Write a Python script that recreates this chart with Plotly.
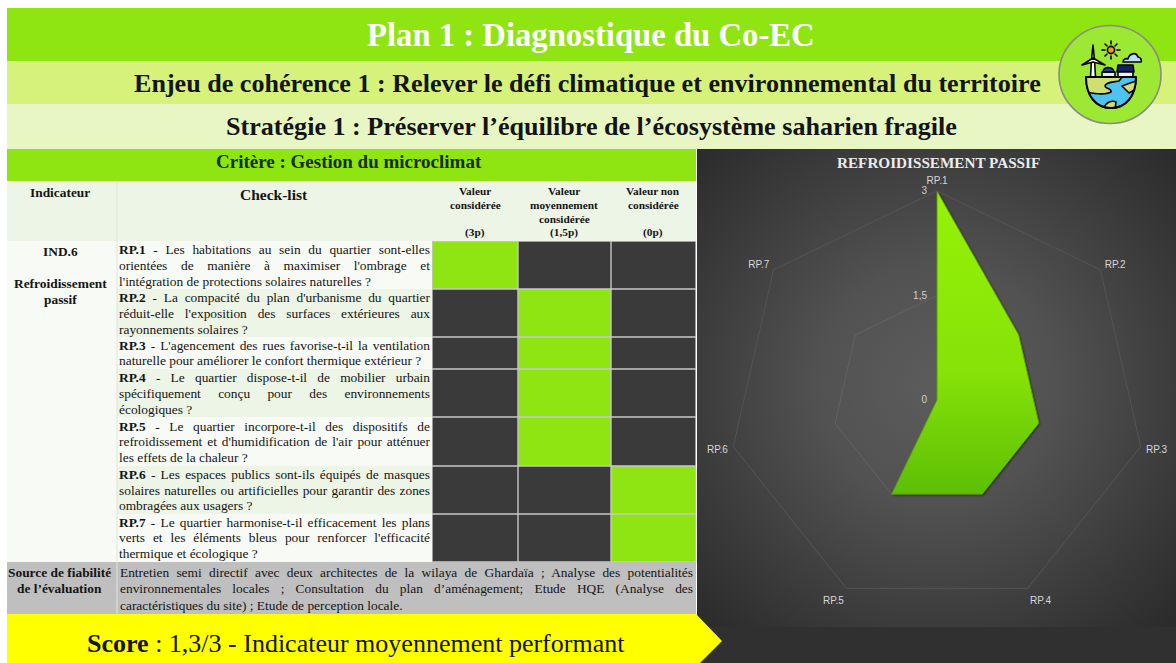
import base64, json
import plotly.graph_objects as go

# ---------- data ----------
rp_labels = ["RP.1", "RP.2", "RP.3", "RP.4", "RP.5", "RP.6", "RP.7"]
rp_values = [3, 1.5, 1.5, 1.5, 1.5, 0, 0]
radial_ticks = [0, 1.5, 3]
radial_tick_text = ["0", "1,5", "3"]
score_columns = [3, 1.5, 0]
column_headers = [
    ["Valeur", "considérée", "", "(3p)"],
    ["Valeur", "moyennement", "considérée", "(1,5p)"],
    ["Valeur non", "considérée", "", "(0p)"],
]
checklist = [
    ["<b>RP.1</b> - Les habitations au sein du quartier sont-elles",
     "orientées de manière à maximiser l'ombrage et",
     "l'intégration de protections solaires naturelles ?"],
    ["<b>RP.2</b> - La compacité du plan d'urbanisme du quartier",
     "réduit-elle l'exposition des surfaces extérieures aux",
     "rayonnements solaires ?"],
    ["<b>RP.3</b> - L'agencement des rues favorise-t-il la ventilation",
     "naturelle pour améliorer le confort thermique extérieur ?"],
    ["<b>RP.4</b> - Le quartier dispose-t-il de mobilier urbain",
     "spécifiquement conçu pour des environnements",
     "écologiques ?"],
    ["<b>RP.5</b> - Le quartier incorpore-t-il des dispositifs de",
     "refroidissement et d'humidification de l'air pour atténuer",
     "les effets de la chaleur ?"],
    ["<b>RP.6</b> - Les espaces publics sont-ils équipés de masques",
     "solaires naturelles ou artificielles pour garantir des zones",
     "ombragées aux usagers ?"],
    ["<b>RP.7</b> - Le quartier harmonise-t-il efficacement les plans",
     "verts et les éléments bleus pour renforcer l'efficacité",
     "thermique et écologique ?"],
]
source_lines = [
    "Entretien semi directif avec deux architectes de la wilaya de Ghardaïa ; Analyse des potentialités",
    "environnementales locales ; Consultation du plan d’aménagement; Etude HQE (Analyse des",
    "caractéristiques du site) ; Etude de perception locale.",
]

# ---------- layout constants ----------
W, H = 1176, 663
GREEN, DARK = "#8ee512", "#3a3a3a"
SERIF = "Liberation Serif"
col_x = [7, 117, 432, 518, 611, 696]
row_y = [241, 289, 337, 369, 417, 466, 514, 562]
line_y = [[249, 265, 281], [297, 313, 329], [345, 361], [377, 393, 409],
          [426, 441, 457], [474, 490, 506], [522, 537, 553]]
source_y = [572, 588, 605]

px = lambda x: x / W
py = lambda y: 1 - y / H
shapes, notes, justify = [], [], []


def rect(x0, y0, x1, y1, fill):
    shapes.append(dict(type="rect", xref="paper", yref="paper", layer="below",
                       x0=px(x0), x1=px(x1), y0=py(y0), y1=py(y1),
                       fillcolor=fill, line=dict(width=0)))


def text(x, y, s, size, color="#141414", anchor="center", family=SERIF, align="center", just=None):
    notes.append(dict(xref="paper", yref="paper", x=px(x), y=py(y), text=s, showarrow=False,
                      xanchor=anchor, yanchor="middle", align=align,
                      font=dict(family=family, size=size, color=color),
                      borderpad=0, borderwidth=0))
    if just:
        justify.append([len(notes) - 1, just, s.count(" ")])


def svg_uri(svg):
    return "data:image/svg+xml;base64," + base64.b64encode(svg.encode()).decode()


# bands
rect(7, 8, W, 61, GREEN)
rect(7, 61, W, 104, "#d6f27a")
rect(7, 104, W, 149, "#e8f6c4")
rect(7, 149, 696, 181, GREEN)
rect(7, 182, 696, 241, "#edf5e6")
rect(7, 241, 117, 562, "#f8fbf5")
rect(7, 562, 696, 614, "#bfbfbf")
rect(432, 241, 696, 562, "#c8c8c8")
rect(697, 627, W, H, "#303030")
shapes.append(dict(type="path", xref="paper", yref="paper", layer="below",
                   path=f"M {px(7)} {py(614)} L {px(696)} {py(614)} L {px(722)} {py(641)} "
                        f"L {px(700)} {py(663)} L {px(7)} {py(663)} Z",
                   fillcolor="#ffff00", line=dict(width=0)))

# checklist rows and score cells
for i in range(len(rp_labels)):
    rect(117, row_y[i], 432, row_y[i + 1], "#edf5e6" if i % 2 else "#f8fbf5")
    for c, val in enumerate(score_columns):
        rect(col_x[2 + c] + .7, row_y[i] + .7, col_x[3 + c] - .7, row_y[i + 1] - .7,
             GREEN if rp_values[i] == val else DARK)
    for j, (ln, y) in enumerate(zip(checklist[i], line_y[i])):
        last = j == len(checklist[i]) - 1
        text(119, y, ln, 13.4, anchor="left", align="left", just=None if last else 311)
for x in col_x[1:2]:
    rect(x - .5, 182, x + .5, 614, "#dfe6da")

# titles
text(591, 34.5, "<b>Plan 1 : Diagnostique du Co-EC</b>", 32.7, color="#ffffff")
text(587, 83.5, "<b>Enjeu de cohérence 1 : Relever le défi climatique et environnemental du territoire</b>", 26.1)
text(591, 127, "<b>Stratégie 1 : Préserver l’équilibre de l’écosystème saharien fragile</b>", 26.1)
text(349, 161.5, "<b>Critère : Gestion du microclimat</b>", 19, color="#15300a")
text(60, 192.5, "<b>Indicateur</b>", 13.4)
text(274, 194, "<b>Check-list</b>", 15.5)
for cx, hdr in zip([475, 564, 653], column_headers):
    for y, ln in zip([191.5, 205, 219, 233], hdr):
        if ln:
            text(cx, y, f"<b>{ln}</b>", 11.3)
text(60, 251, "<b>IND.6</b>", 13.4)
text(60, 283, "<b>Refroidissement</b>", 13.4)
text(60, 300, "<b>passif</b>", 13.4)
text(59, 572, "<b>Source de fiabilité</b>", 13.4)
text(59, 588, "<b>de l’évaluation</b>", 13.4)
for j, (ln, y) in enumerate(zip(source_lines, source_y)):
    text(120, y, ln, 13.4, anchor="left", align="left", just=None if j == 2 else 573)
text(356, 643, "<b>Score</b> : 1,3/3 - Indicateur moyennement performant", 26)
text(938, 162, "<b>REFROIDISSEMENT PASSIF</b>", 15.2, color="#ececec")

# chart background
bg_svg = (f'<svg xmlns="http://www.w3.org/2000/svg" width="479" height="480" viewBox="697 147 479 480">'
          '<defs><radialGradient id="g" gradientUnits="userSpaceOnUse" cx="937" cy="385" r="335">'
          '<stop offset="0" stop-color="#5c5c5c"/><stop offset="0.35" stop-color="#525252"/>'
          '<stop offset="1" stop-color="#2b2b2b"/></radialGradient></defs>'
          '<rect x="697" y="147" width="479" height="480" fill="url(#g)"/></svg>')

# logo
EARTH = "M1086 77H1136C1136 96 1126 108 1111 108C1096 108 1086 96 1086 77Z"
logo_svg = ('<svg xmlns="http://www.w3.org/2000/svg" width="108" height="104" viewBox="1056 23 108 104">'
            f'<defs><clipPath id="e"><path d="{EARTH}"/></clipPath></defs>'
            '<ellipse cx="1110" cy="74.5" rx="51" ry="49" fill="#9de832" stroke="#8a8a8a" stroke-width="1.6"/>'
            '<g stroke="#000" stroke-width="1.6" stroke-linecap="round" stroke-linejoin="round">'
            '<circle cx="1111" cy="50" r="3.6" fill="#f39c12"/>'
            '<path d="M1111 41v3M1111 56v3M1102 50h3M1117 50h3M1105 44l2 2M1115 54l2 2M1105 56l2-2M1115 46l2-2" fill="none"/>'
            '<path d="M1123 62c0-3 3-4 5-3c1-5 8-8 10-2c3 0 4 4 3 5z" fill="#b8e2f8"/>'
            '<path d="M1090.500 77l1-17l1.500-15l1.500 15l1 17z" fill="#fff"/>'
            '<path d="M1082 65l11-7l12 7l-12-3z" fill="#fff"/>'
            '<rect x="1102" y="72" width="13" height="5" fill="#e8e8e8"/>'
            '<path d="M1103 72c0-6 10-6 11 0z" fill="#1f3f8f"/>'
            '<path d="M1118 65h15l1 7h-17z" fill="#12206a"/>'
            '<rect x="1118" y="72" width="15" height="5" fill="#eeeeee"/>'
            f'<path d="{EARTH}" fill="#4cc4f0"/>'
            '<g clip-path="url(#e)"><path d="M1086 77h36l-3 4c-4 1-14 1-14 5c0 3 7 2 6 6c-5 3-15 2-25 0z" fill="#cfe070"/>'
            '<path d="M1122 86l14-5v8l-7 4z" fill="#cfe070"/>'
            '<path d="M1104 108c2-6 8-8 12-6l-1 7h-10z" fill="#cfe070"/></g>'
            f'<path d="{EARTH}" fill="none" stroke-width="2"/></g></svg>')

fig = go.Figure(go.Scatterpolar(
    r=rp_values + rp_values[:1], theta=rp_labels + rp_labels[:1],
    mode="lines", fill="toself", fillcolor="#7ad908",
    line=dict(color="#5a9e08", width=1), hoverinfo="skip", showlegend=False))

fig.update_layout(
    width=W, height=H, autosize=False, margin=dict(l=0, r=0, t=0, b=0),
    paper_bgcolor="#ffffff", plot_bgcolor="rgba(0,0,0,0)", showlegend=False,
    shapes=shapes, annotations=notes,
    images=[
        dict(source=svg_uri(bg_svg), xref="paper", yref="paper", x=px(697), y=py(147),
             sizex=479 / W, sizey=480 / H, sizing="stretch", xanchor="left", yanchor="top", layer="below"),
        dict(source=svg_uri(logo_svg), xref="paper", yref="paper", x=px(1056), y=py(23),
             sizex=108 / W, sizey=104 / H, sizing="stretch", xanchor="left", yanchor="top", layer="above"),
    ],
    polar=dict(
        domain=dict(x=[px(937 - 209), px(937 + 209)], y=[py(400 + 209), py(400 - 209)]),
        bgcolor="rgba(0,0,0,0)", gridshape="linear",
        radialaxis=dict(range=[0, 3], tickvals=radial_ticks, ticktext=radial_tick_text, angle=90,
                        side="counterclockwise", tickangle=90, showline=False, ticks="outside",
                        ticklen=6, tickcolor="rgba(0,0,0,0)", gridcolor="#626262", gridwidth=1,
                        tickfont=dict(family="Liberation Sans", size=10, color="#d0d0d0")),
        angularaxis=dict(categoryorder="array", categoryarray=rp_labels, direction="clockwise",
                         rotation=90, showgrid=False, showline=True, linecolor="#545454", linewidth=1,
                         ticks="outside", ticklen=3, tickcolor="rgba(0,0,0,0)",
                         tickfont=dict(family="Liberation Sans", size=10, color="#d8d8d8")),
    ),
)

post = """
document.body.style.margin = '0';
var J = %s;
J.forEach(function (j) {
  var t = document.querySelector('g.annotation[data-index="' + j[0] + '"] text');
  if (!t || !j[2]) return;
  t.style.wordSpacing = ((j[1] - t.getComputedTextLength()) / j[2]) + 'px';
});
var svg = document.querySelector('.main-svg');
var NS = 'http://www.w3.org/2000/svg';
var d = document.createElementNS(NS, 'defs');
d.innerHTML = '<linearGradient id="radarFill" gradientUnits="objectBoundingBox" x1="0" y1="0" x2="0" y2="1">' +
  '<stop offset="0" stop-color="#96f206"/><stop offset="0.6" stop-color="#86e208"/><stop offset="1" stop-color="#5cbf04"/></linearGradient>';
svg.appendChild(d);
document.querySelectorAll('.polarlayer .fills path, .polarlayer path.js-fill').forEach(function (p) {
  p.style.fill = 'url(#radarFill)';
  p.style.fillOpacity = 1;
  p.style.filter = 'drop-shadow(1px 1px 1px rgba(0,0,0,0.55))';
});
""" % json.dumps(justify)

fig.write_html("out.html", post_script=post, config=dict(displayModeBar=False))
